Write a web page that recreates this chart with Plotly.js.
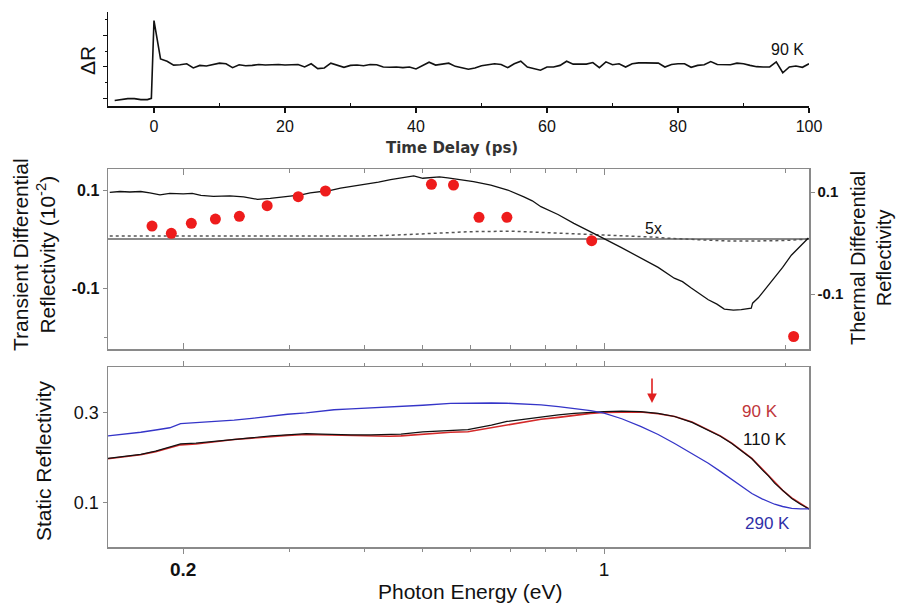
<!DOCTYPE html>
<html>
<head>
<meta charset="utf-8">
<script src="https://cdn.plot.ly/plotly-3.0.1.min.js"></script>
<style>html,body{margin:0;padding:0;background:#fff}#chart{width:897px;height:603px}</style>
</head>
<body>
<div id="chart"></div>
<script>
// ---------- Top panel: time trace (90 K) ----------
const timeDelay = [-6,-5,-4,-3,-2,-1,-0.4,0,1,2,3,4,5,6,7,8,9,10,11,12,13,14,15,16,17,18,19,20,21,22,23,24,25,26,27,28,29,30,31,32,33,34,35,36,37,38,39,40,41,42,43,44,45,46,47,48,49,50,51,52,53,54,55,56,57,58,59,60,61,62,63,64,65,66,67,68,69,70,71,72,73,74,75,76,77,78,79,80,81,82,83,84,85,86,87,88,89,90,91,92,93,94,95,96,97,98,99,100];
const deltaR = [-0.05,-0.02,0.01,0.01,-0.02,-0.02,0.02,2.45,1.25,1.18,1.06,1.07,1.1,0.97,1.05,1.03,1.08,1.12,1.1,0.98,1.07,1.04,1.05,1.08,1.06,1.07,1.08,1.06,1.07,1.08,1.0,1.1,0.95,0.97,1.12,1.05,0.99,1.05,1.06,1.04,1.08,1.07,1.0,0.99,1.0,0.98,1.0,0.94,1.05,1.15,1.06,1.08,1.12,1.02,0.98,0.93,0.97,1.04,1.07,1.1,1.08,0.98,1.1,1.18,1.0,0.96,0.9,1.0,1.0,1.05,1.18,1.09,1.08,1.09,1.14,0.98,1.16,1.07,1.1,1.0,1.1,1.13,1.13,1.13,1.12,1.0,1.08,1.1,1.1,0.99,1.05,1.07,1.17,1.08,1.07,1.07,1.12,1.1,1.05,1.01,1.0,1.0,1.16,0.82,1.0,1.03,0.99,1.1];
const timeTicks = [0,20,40,60,80,100];

// ---------- Middle panel: differential reflectivity ----------
const transE = [0.151,0.157,0.163,0.170,0.176,0.183,0.190,0.200,0.207,0.214,0.2245,0.239,0.252,0.2657,0.279,0.298,0.314,0.325,0.338,0.350,0.365,0.385,0.405,0.422,0.442,0.462,0.483,0.5,0.5155,0.533,0.550,0.578,0.607,0.6486,0.692,0.736,0.760,0.7855,0.8385,0.891,0.951,0.9886,1.067,1.152,1.230,1.308,1.350,1.396,1.490,1.540,1.584,1.640,1.690,1.756,1.765,1.804,1.860,1.918,1.980,2.047,2.185];
const transR = [0.095,0.097,0.096,0.097,0.094,0.090,0.093,0.092,0.093,0.089,0.087,0.088,0.086,0.081,0.083,0.087,0.090,0.094,0.097,0.099,0.104,0.108,0.113,0.116,0.121,0.125,0.129,0.124,0.126,0.127,0.125,0.121,0.117,0.110,0.100,0.086,0.078,0.066,0.050,0.032,0.015,0.004,-0.017,-0.039,-0.058,-0.080,-0.087,-0.100,-0.124,-0.133,-0.143,-0.145,-0.144,-0.141,-0.131,-0.120,-0.100,-0.080,-0.058,-0.033,0.002];
const thermE = [0.151,0.2,0.3,0.4,0.45,0.5,0.55,0.6,0.7,0.8,0.9,1.0,1.1,1.2,1.3,1.5,1.6,1.8,2.0,2.19];
const thermR = [0.006,0.006,0.005,0.006,0.008,0.011,0.013,0.015,0.016,0.013,0.011,0.009,0.007,0.004,0.001,-0.002,-0.004,-0.004,-0.003,0.0];
const dotE = [0.1775,0.1911,0.2063,0.2262,0.2479,0.2757,0.3105,0.3446,0.5168,0.5623,0.6199,0.6897,0.9539,2.065];
const dotR = [0.0265,0.0116,0.032,0.0408,0.0463,0.068,0.0864,0.098,0.1116,0.110,0.0443,0.0443,-0.0035,-0.199];
const diffTicks = [-0.1,0.1];

// ---------- Bottom panel: static reflectivity ----------
const statE = [0.150,0.160,0.170,0.180,0.190,0.198,0.21,0.225,0.243,0.26,0.28,0.298,0.32,0.34,0.356,0.38,0.41,0.44,0.46,0.5,0.556,0.594,0.65,0.69,0.74,0.786,0.84,0.892,0.95,1.0,1.07,1.15,1.23,1.31,1.40,1.49,1.56,1.63,1.69,1.76,1.83,1.875,1.92,1.98,2.05,2.12,2.19];
const r290 = [0.249,0.253,0.257,0.262,0.267,0.276,0.278,0.281,0.284,0.288,0.293,0.297,0.300,0.304,0.307,0.309,0.311,0.313,0.314,0.317,0.321,0.322,0.322,0.3215,0.320,0.318,0.314,0.310,0.305,0.2995,0.287,0.270,0.252,0.232,0.210,0.188,0.170,0.152,0.136,0.121,0.109,0.103,0.097,0.092,0.088,0.0868,0.0867];
const r110 = [0.199,0.203,0.208,0.215,0.224,0.231,0.233,0.237,0.242,0.245,0.249,0.251,0.254,0.253,0.252,0.251,0.251,0.252,0.253,0.258,0.262,0.263,0.273,0.281,0.286,0.291,0.2955,0.299,0.302,0.303,0.304,0.303,0.299,0.292,0.279,0.262,0.248,0.232,0.216,0.198,0.174,0.160,0.144,0.127,0.110,0.097,0.0867];
const r90 = [0.198,0.202,0.207,0.214,0.222,0.229,0.231,0.236,0.241,0.244,0.248,0.250,0.252,0.251,0.250,0.249,0.248,0.248,0.249,0.253,0.257,0.258,0.267,0.274,0.280,0.286,0.290,0.295,0.299,0.301,0.302,0.302,0.298,0.292,0.280,0.263,0.249,0.233,0.217,0.199,0.176,0.161,0.145,0.128,0.111,0.098,0.0867];
const statTicks = [0.1,0.3];
const energyTicks = [0.2,1];
const energyTickText = ['<b>0.2</b>','1'];
const energyMinor = [0.3,0.4,0.5,0.6,0.7,0.8,0.9,2];

// ---------- geometry helpers (pixels -> paper) ----------
const W = 897, H = 603;
const px = v => v / W;
const py = v => 1 - v / H;
const FONT = 'Liberation Sans, Arial, sans-serif';
const GRAY = '#8a8a8a';
const xDom = [px(108), px(809)];
const eRange = [Math.log10(0.15), Math.log10(2.19)];

const traces = [
  {x: timeDelay, y: deltaR, xaxis: 'x', yaxis: 'y', mode: 'lines', line: {color: '#111', width: 1.6}},
  {x: thermE, y: thermR, xaxis: 'x2', yaxis: 'y2', mode: 'lines', line: {color: '#555', width: 1.5, dash: 'dot'}},
  {x: transE, y: transR, xaxis: 'x2', yaxis: 'y2', mode: 'lines', line: {color: '#111', width: 1.3}},
  {x: dotE, y: dotR, xaxis: 'x2', yaxis: 'y2', mode: 'markers', marker: {color: '#ee1c1c', size: 11}},
  // invisible companion so the right-hand (thermal) axis is drawn
  {x: thermE, y: thermR, xaxis: 'x2', yaxis: 'y3', mode: 'lines', line: {width: 0}, opacity: 0},
  {x: statE, y: r90, xaxis: 'x3', yaxis: 'y4', mode: 'lines', line: {color: '#d42a2a', width: 1.6}},
  {x: statE, y: r110, xaxis: 'x3', yaxis: 'y4', mode: 'lines', line: {color: '#111', width: 1.2}},
  {x: statE, y: r290, xaxis: 'x3', yaxis: 'y4', mode: 'lines', line: {color: '#3535c8', width: 1.3}}
];

const ann = (text, x, y, size, opts = {}) => Object.assign({
  text, x: px(x), y: py(y), xref: 'paper', yref: 'paper', showarrow: false,
  xanchor: 'center', yanchor: 'middle', font: {family: FONT, size, color: '#111'}
}, opts);

const layout = {
  width: W, height: H,
  margin: {l: 0, r: 0, t: 0, b: 0},
  paper_bgcolor: '#fff', plot_bgcolor: 'rgba(0,0,0,0)',
  showlegend: false,
  font: {family: FONT, color: '#111'},
  xaxis: {
    domain: xDom, anchor: 'y', range: [-7.02, 100], showgrid: false, zeroline: false,
    showline: true, linecolor: '#111', linewidth: 1.5, ticks: 'outside', ticklen: 5, tickwidth: 1.3, tickcolor: '#111',
    tickmode: 'array', tickvals: timeTicks, tickfont: {size: 16, family: FONT},
    minor: {tickmode: 'array', tickvals: [10,30,50,70,90], ticks: 'inside', ticklen: 3, tickcolor: '#111'}
  },
  yaxis: {
    domain: [py(106), py(12)], anchor: 'x', range: [-0.22, 2.72], showgrid: false, zeroline: false,
    showline: true, linecolor: '#111', linewidth: 1.5, ticks: 'outside', ticklen: 4, tickcolor: '#111',
    tickmode: 'array', tickvals: [0,1,2], showticklabels: false,
    minor: {tickmode: 'array', tickvals: [0.5,1.5,2.5], ticks: 'outside', ticklen: 2, tickcolor: '#111'}
  },
  xaxis2: {
    type: 'log', domain: xDom, anchor: 'y2', range: eRange, showgrid: false, zeroline: false,
    showline: true, mirror: 'ticks', linecolor: GRAY, linewidth: 1.5, ticks: 'inside', ticklen: 6, tickcolor: GRAY,
    tickmode: 'array', tickvals: energyTicks, showticklabels: false,
    minor: {tickmode: 'array', tickvals: energyMinor, ticks: 'inside', ticklen: 4, tickcolor: GRAY}
  },
  yaxis2: {
    domain: [py(349), py(169)], anchor: 'x2', range: [-0.2245, 0.1429], showgrid: false,
    zeroline: true, zerolinecolor: GRAY, zerolinewidth: 1.6,
    showline: true, linecolor: GRAY, linewidth: 1.5, ticks: 'outside', ticklen: 4, tickcolor: GRAY,
    tickmode: 'array', tickvals: diffTicks, ticktext: diffTicks.map(v => '<b>' + v + '</b>'),
    tickfont: {size: 16, family: FONT},
    minor: {tickmode: 'array', tickvals: [-0.2], ticks: 'outside', ticklen: 3, tickcolor: GRAY}
  },
  yaxis3: {
    overlaying: 'y2', side: 'right', anchor: 'x2', range: [-0.2078, 0.1451], showgrid: false, zeroline: false,
    showline: true, linecolor: GRAY, linewidth: 1.5, ticks: 'outside', ticklen: 4, tickcolor: GRAY,
    tickmode: 'array', tickvals: diffTicks, ticktext: diffTicks.map(v => '<b>' + v + '</b>'),
    tickfont: {size: 15, family: FONT}
  },
  xaxis3: {
    type: 'log', domain: xDom, anchor: 'y4', range: eRange, showgrid: false, zeroline: false,
    showline: true, mirror: 'ticks', linecolor: GRAY, linewidth: 1.5, ticks: 'outside', ticklen: 5, tickcolor: GRAY,
    tickmode: 'array', tickvals: energyTicks, ticktext: energyTickText, tickfont: {size: 19, family: FONT},
    minor: {tickmode: 'array', tickvals: energyMinor, ticks: 'outside', ticklen: 3, tickcolor: GRAY}
  },
  yaxis4: {
    domain: [py(547), py(367)], anchor: 'x3', range: [0.002, 0.402], showgrid: false, zeroline: false,
    showline: true, mirror: true, linecolor: GRAY, linewidth: 1.5, ticks: 'outside', ticklen: 4, tickcolor: GRAY,
    tickmode: 'array', tickvals: statTicks, tickfont: {size: 18, family: FONT}
  },
  annotations: [
    ann('<b>Time Delay (ps)</b>', 452, 148, 15, {font: {family: 'DejaVu Sans, Verdana, sans-serif', size: 15, color: '#333'}}),
    ann('ΔR', 88, 61, 21, {textangle: -90}),
    ann('90 K', 787, 50, 16),
    ann('Transient Differential<br>Reflectivity (10<sup>-2</sup>)', 34, 255, 21, {textangle: -90}),
    ann('Thermal Differential<br>Reflectivity', 871, 258, 20, {textangle: -90}),
    ann('5x', 653, 229, 16),
    ann('Static Reflectivity', 43, 461, 21, {textangle: -90}),
    ann('Photon Energy (eV)', 470, 591, 21),
    ann('90 K', 760, 411, 17, {font: {family: FONT, size: 17, color: '#c0353a'}}),
    ann('110 K', 765, 439, 17),
    ann('290 K', 767, 523, 17, {font: {family: FONT, size: 17, color: '#2f2fa8'}}),
    {x: px(652), y: py(403), xref: 'paper', yref: 'paper', text: '', showarrow: true,
     ax: 0, ay: -26, arrowcolor: '#e02020', arrowwidth: 1.6, arrowhead: 2, arrowsize: 1.2}
  ]
};

Plotly.newPlot('chart', traces, layout, {staticPlot: true, displayModeBar: false});
</script>
</body>
</html>
